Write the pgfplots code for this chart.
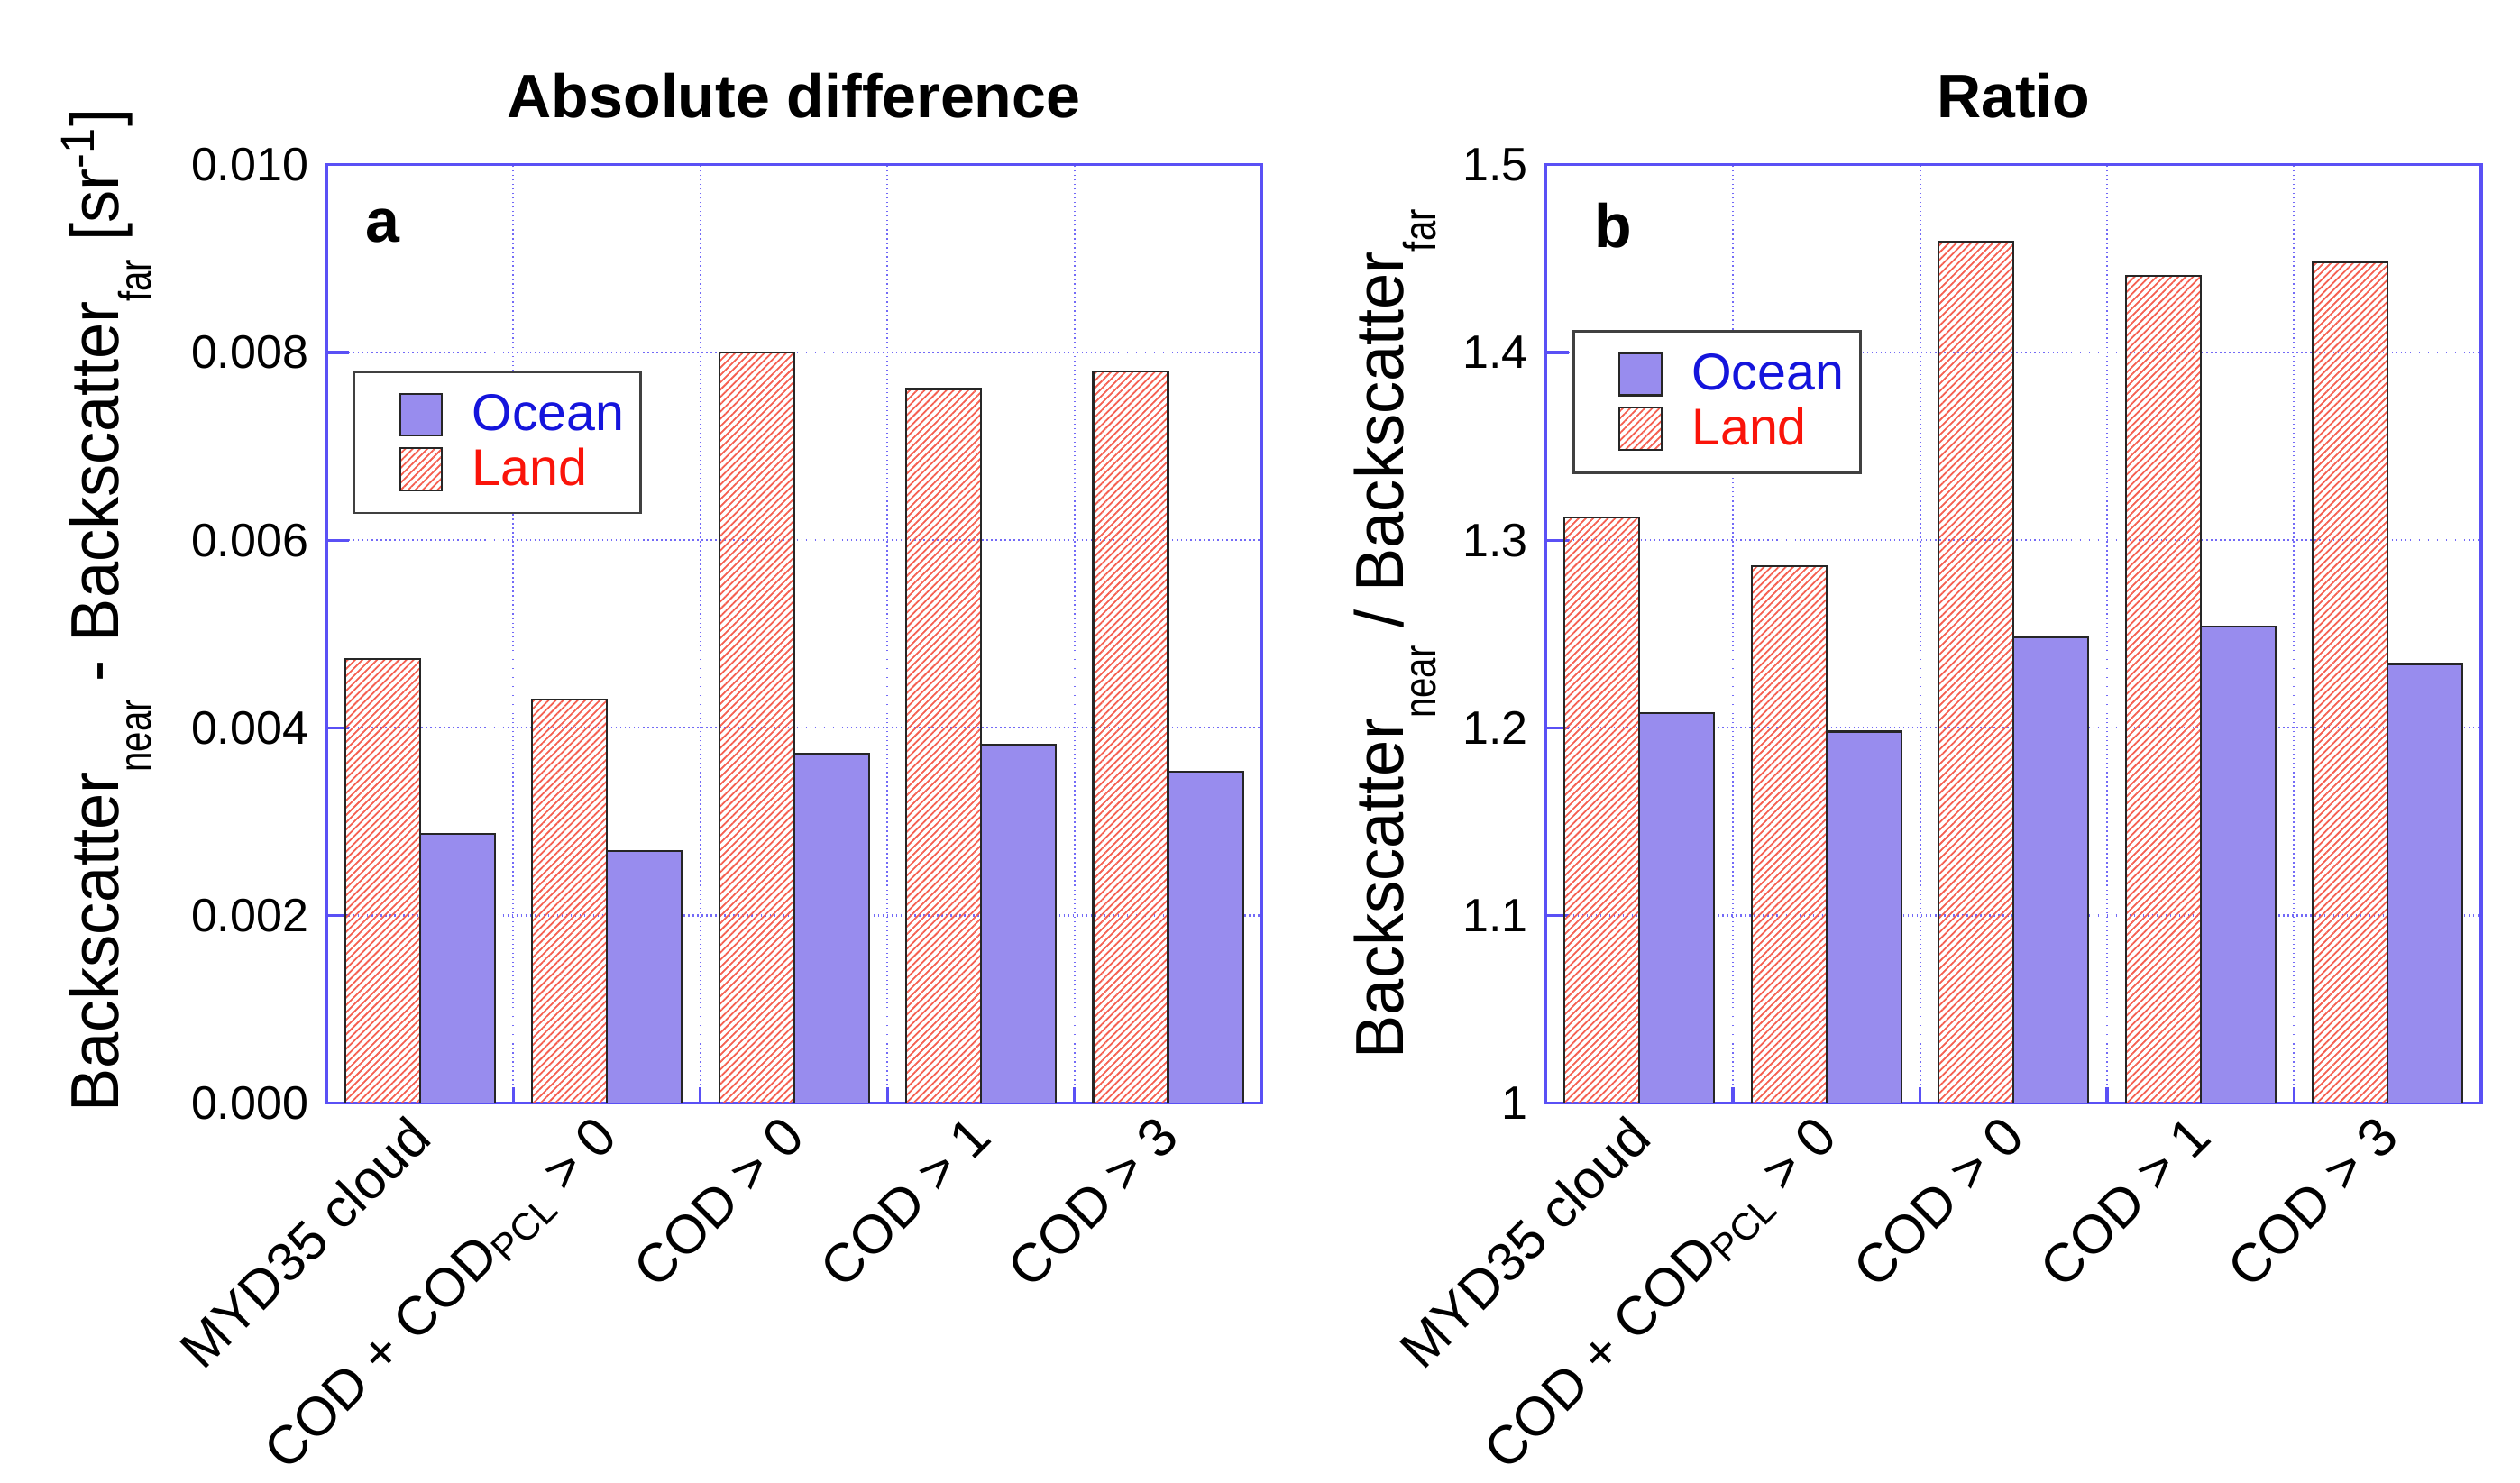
\documentclass[border=0pt]{standalone}
\usepackage{pgfplots}
\pgfplotsset{compat=1.18}
\usepackage{fontspec}
\setmainfont{Liberation Sans}
\newfontfamily\narrowfont[FakeStretch=0.96]{Liberation Sans}
\newfontfamily\subfont[FakeStretch=0.8]{Liberation Sans}
\usetikzlibrary{patterns.meta}

\definecolor{axisblue}{RGB}{90,80,245}
\definecolor{oceanfill}{RGB}{152,140,238}
\definecolor{landhatch}{RGB}{245,95,80}
\definecolor{oceantext}{RGB}{20,20,220}
\definecolor{landtext}{RGB}{250,20,10}

\newcommand{\sub}[1]{\raisebox{-0.9ex}{\subfont\fontsize{14}{15}\selectfont #1}}

\pgfplotsset{
  panel/.style={
    width=289.5pt, height=290.5pt, scale only axis,
    xmin=-0.5, xmax=4.5,
    xtick={0,1,2,3,4},
    xticklabels={MYD35 cloud, COD + COD\textsubscript{PCL} > 0, COD > 0, COD > 1, COD > 3},
    minor xtick={0.5,1.5,2.5,3.5},
    major x tick style={draw=none},
    minor tick length=5pt,
    major tick length=7pt,
    ymajorgrids, xminorgrids,
    grid style={axisblue!85, densely dotted, line width=0.6pt},
    axis line style={axisblue, line width=0.9pt},
    every tick/.style={axisblue, line width=0.9pt},
    ytick pos=left, xtick pos=bottom,
    scaled y ticks=false,
    xticklabel style={rotate=45, anchor=north east, font=\fontsize{16.8}{19}\selectfont, inner sep=2pt, xshift=-3pt, yshift=3pt},
    yticklabel style={font=\fontsize{14.5}{16}\selectfont, xshift=-2pt},
    /pgf/number format/assume math mode=true,
    ylabel style={font=\narrowfont\fontsize{21}{24}\selectfont, yshift=3pt},
    title style={font=\bfseries\fontsize{19}{22}\selectfont, yshift=5pt},
    legend cell align=left,
    legend style={draw=black!75, line width=0.8pt, font=\fontsize{16}{18}\selectfont,
      anchor=north west, inner xsep=3pt, inner ysep=5pt, row sep=0pt, column sep=7pt},
  },
  sqlegend/.style={legend image code/.code={\path (0pt,0pt); \draw[##1] (11pt,-6.5pt) rectangle (24pt,6.5pt);}},
  ocean/.style={ybar, bar width=0.4, bar shift=0.2, fill=oceanfill, draw=black!85, line width=0.6pt, sqlegend},
  land/.style={ybar, bar width=0.4, bar shift=-0.2, draw=black!85, line width=0.6pt,
    pattern={Lines[angle=45,distance=1.6pt,line width=0.5pt]}, pattern color=landhatch, sqlegend},
}

\begin{document}
\begin{tikzpicture}
\path[use as bounding box] (0,0) rectangle (780pt,459pt);

% a: absolute difference
\begin{axis}[panel, at={(101pt,117.5pt)}, anchor=south west,
  title={Absolute difference},
  ymin=0, ymax=0.01,
  ytick={0,0.002,0.004,0.006,0.008,0.010},
  yticklabel style={/pgf/number format/fixed, /pgf/number format/fixed zerofill, /pgf/number format/precision=3},
  ylabel={Backscatter\sub{near} - Backscatter\sub{far} [sr\textsuperscript{-1}]},
  ylabel style={yshift=2.5pt},
  every axis y label/.append style={at={(ticklabel cs:0.525)}},
  legend style={at={(rel axis cs:0.028,0.781)}},
]
\addplot[ocean] coordinates {(0,0.00287) (1,0.00269) (2,0.00372) (3,0.00382) (4,0.00353)};
\addlegendentry{\textcolor{oceantext}{Ocean}}
\addplot[land] coordinates {(0,0.00473) (1,0.00430) (2,0.00800) (3,0.00761) (4,0.00780)};
\addlegendentry{\textcolor{landtext}{Land}}
\node[font=\bfseries\fontsize{19}{21}\selectfont] at (rel axis cs:0.06,0.935) {a};
\end{axis}

% b: ratio
\begin{axis}[panel, at={(478.5pt,117.5pt)}, anchor=south west,
  title={Ratio},
  ymin=1, ymax=1.5,
  ytick={1,1.1,1.2,1.3,1.4,1.5},
  ylabel={Backscatter\sub{near} / Backscatter\sub{far}},
  ylabel style={yshift=-1.5pt},
  legend style={at={(rel axis cs:0.028,0.824)}},
]
\addplot[ocean] coordinates {(0,1.208) (1,1.198) (2,1.248) (3,1.254) (4,1.234)};
\addlegendentry{\textcolor{oceantext}{Ocean}}
\addplot[land] coordinates {(0,1.312) (1,1.286) (2,1.459) (3,1.441) (4,1.448)};
\addlegendentry{\textcolor{landtext}{Land}}
\node[font=\bfseries\fontsize{19}{21}\selectfont] at (rel axis cs:0.072,0.935) {b};
\end{axis}
\end{tikzpicture}
\end{document}
